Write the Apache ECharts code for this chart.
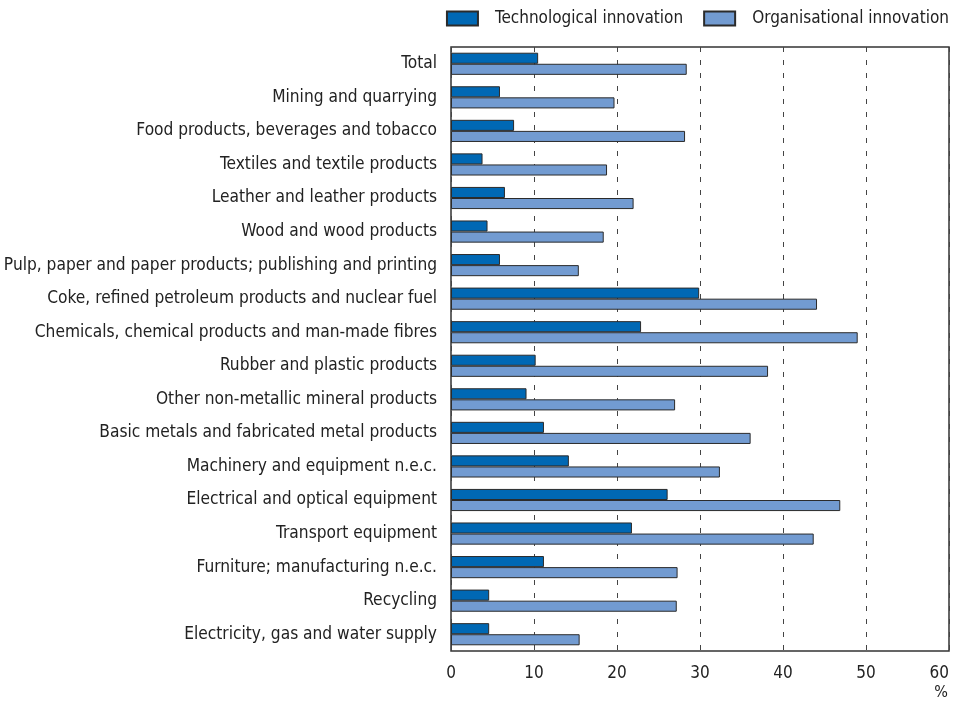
<!DOCTYPE html>
<html>
<head>
<meta charset="utf-8">
<script src="https://cdn.jsdelivr.net/npm/echarts@6/dist/echarts.min.js"></script>
<style>html,body{margin:0;padding:0;background:#fff;overflow:hidden}#c{width:954px;height:707px}</style>
</head>
<body>
<div id="c"></div>
<script>
const categories = [
  "Total",
  "Mining and quarrying",
  "Food products, beverages and tobacco",
  "Textiles and textile products",
  "Leather and leather products",
  "Wood and wood products",
  "Pulp, paper and paper products; publishing and printing",
  "Coke, refined petroleum products and nuclear fuel",
  "Chemicals, chemical products and man-made fibres",
  "Rubber and plastic products",
  "Other non-metallic mineral products",
  "Basic metals and fabricated metal products",
  "Machinery and equipment n.e.c.",
  "Electrical and optical equipment",
  "Transport equipment",
  "Furniture; manufacturing n.e.c.",
  "Recycling",
  "Electricity, gas and water supply"
];
const technological = [10.5, 5.9, 7.6, 3.8, 6.5, 4.4, 5.9, 29.9, 22.9, 10.2, 9.1, 11.2, 14.2, 26.1, 21.8, 11.2, 4.6, 4.6];
const organisational = [28.4, 19.7, 28.2, 18.8, 22.0, 18.4, 15.4, 44.1, 49.0, 38.2, 27.0, 36.1, 32.4, 46.9, 43.7, 27.3, 27.2, 15.5];
const xTicks = [0, 10, 20, 30, 40, 50, 60];
const seriesNames = ["Technological innovation", "Organisational innovation"];

const FONT = "'Liberation Sans Narrow', 'DejaVu Sans Condensed', 'Roboto', sans-serif";
const chart = echarts.init(document.getElementById('c'));
chart.setOption({
  animation: false,
  textStyle: { fontFamily: FONT },
  legend: {
    right: 0, top: 5,
    icon: 'rect',
    itemWidth: 31, itemHeight: 14, itemGap: 20,
    textStyle: { fontFamily: FONT, fontSize: 17, color: '#222', padding: [0, 0, 0, 12] },
    data: seriesNames
  },
  grid: {
    left: 451, right: 5, top: 47, bottom: 56,
    outerBoundsMode: 'none', containLabel: false,
    show: true, borderColor: '#333', borderWidth: 1.5, backgroundColor: 'transparent'
  },
  xAxis: {
    type: 'value', min: xTicks[0], max: xTicks[xTicks.length - 1], interval: 10,
    axisLine: { show: false }, axisTick: { show: false },
    axisLabel: { fontFamily: FONT, fontSize: 17, color: '#222', margin: 14, alignMaxLabel: 'right' },
    splitLine: { show: true, lineStyle: { color: '#444', type: [5, 8], width: 1 } }
  },
  yAxis: {
    type: 'category', data: categories, inverse: true,
    axisLine: { show: false }, axisTick: { show: false },
    axisLabel: { fontFamily: FONT, fontSize: 17.2, color: '#222', margin: 14 }
  },
  graphic: [{
    type: 'text', right: 6, top: 685,
    style: { text: '%', fontFamily: FONT, fontSize: 16, fill: '#222' }
  }],
  series: [
    {
      name: seriesNames[0], type: 'bar', data: technological,
      barGap: '0%', barCategoryGap: '34%',
      itemStyle: { color: '#0068b4', borderColor: '#2b2b2b', borderWidth: 1 }
    },
    {
      name: seriesNames[1], type: 'bar', data: organisational,
      barGap: '0%', barCategoryGap: '34%',
      itemStyle: { color: '#729bd1', borderColor: '#2b2b2b', borderWidth: 1 }
    }
  ]
});
</script>
</body>
</html>
